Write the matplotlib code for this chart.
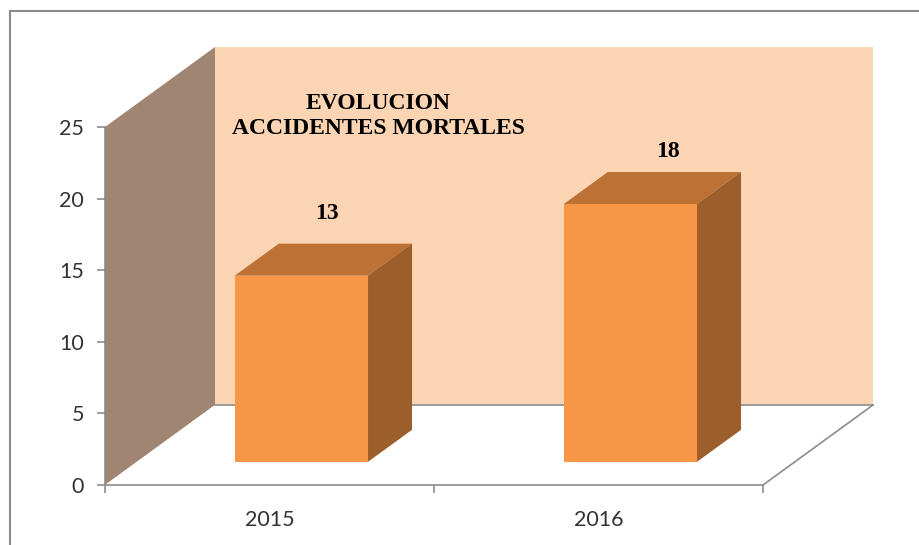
import matplotlib.pyplot as plt
from matplotlib.patches import Polygon
from matplotlib.lines import Line2D

years = ["2015", "2016"]
deaths = [13, 18]
y_ticks = [0, 5, 10, 15, 20, 25]
title = "EVOLUCION\nACCIDENTES MORTALES"

# oblique 3D look: how far one full unit of depth moves things (in data units)
DX = 110 / 329
DY = 80 / 14.32
bar_w = 0.405
z_front, z_back = 0.29, 0.69
# value labels sit a bit differently over each bar (points)
label_offsets = [(2.5, 17.5), (11.5, 11)]

grey = "#8c8c8c"

fig = plt.figure(figsize=(9.2, 5.45), dpi=100)
ax = fig.add_axes([105 / 920, 60 / 545, 658 / 920, 358 / 545])
ax.set_xlim(0, len(years))
ax.set_ylim(0, 25)
ax.patch.set_visible(False)


def poly(pts, color, z):
    ax.add_patch(Polygon(pts, closed=True, facecolor=color, edgecolor="none",
                         clip_on=False, zorder=z))


n = len(years)
top = y_ticks[-1]
# walls and floor
poly([(DX, DY), (n + DX, DY), (n + DX, top + DY), (DX, top + DY)], "#fbd4b4", 1)
poly([(0, 0), (0, top), (DX, top + DY), (DX, DY)], "#a08672", 1)
poly([(0, 0), (n, 0), (n + DX, DY), (DX, DY)], "white", 1)
for xs, ys in [([DX, n + DX], [DY, DY]), ([n, n + DX], [0, DY])]:
    ax.add_line(Line2D(xs, ys, color=grey, lw=1.2, clip_on=False, zorder=2))

# bars
for i, v in enumerate(deaths):
    x0 = i + 0.5 - bar_w / 2 + z_front * DX
    x1 = x0 + bar_w
    y0 = z_front * DY
    y1 = v + z_front * DY
    ddx = (z_back - z_front) * DX
    ddy = (z_back - z_front) * DY
    poly([(x0, y0), (x1, y0), (x1, y1), (x0, y1)], "#f79646", 3)
    poly([(x0, y1), (x1, y1), (x1 + ddx, y1 + ddy), (x0 + ddx, y1 + ddy)], "#bd7134", 3)
    poly([(x1, y0), (x1 + ddx, y0 + ddy), (x1 + ddx, y1 + ddy), (x1, y1)], "#9c5e2b", 3)
    ax.annotate(str(v), (x0 + bar_w / 2 + ddx / 2, y1 + ddy), xytext=label_offsets[i],
                textcoords="offset points", ha="center", va="baseline",
                fontsize=17, fontweight="bold", family="Liberation Serif", zorder=5)

ax.text(0.831, 25.77, title, ha="center", va="center", fontsize=17, fontweight="bold",
        family="Liberation Serif", linespacing=1.2, zorder=5)

# axes
for s in ["top", "right"]:
    ax.spines[s].set_visible(False)
for s in ["left", "bottom"]:
    ax.spines[s].set_color(grey)
    ax.spines[s].set_linewidth(1.2)
    ax.spines[s].set_zorder(4)
ax.set_yticks(y_ticks)
ax.set_xticks(range(n + 1))
ax.set_xticklabels([])
ax.set_xticks([i + 0.5 for i in range(n)], minor=True)
ax.set_xticklabels(years, minor=True)
ax.tick_params(axis="y", length=6, width=1.2, color=grey, pad=9, labelsize=15.5,
               labelcolor="#333333")
ax.tick_params(axis="x", which="major", length=6, width=1.2, color=grey)
ax.tick_params(axis="x", which="minor", length=0, pad=18, labelsize=15.5,
               labelcolor="#333333")
for lab in ax.get_yticklabels() + ax.get_xticklabels(minor=True):
    lab.set_family("Lato")

# outer chart frame
fig.add_artist(Line2D([10 / 920, 1], [1 - 11 / 545] * 2, color=grey, lw=1.5))
fig.add_artist(Line2D([10 / 920] * 2, [0, 1 - 11 / 545], color=grey, lw=1.5))

fig.savefig("out.png", dpi=100)
